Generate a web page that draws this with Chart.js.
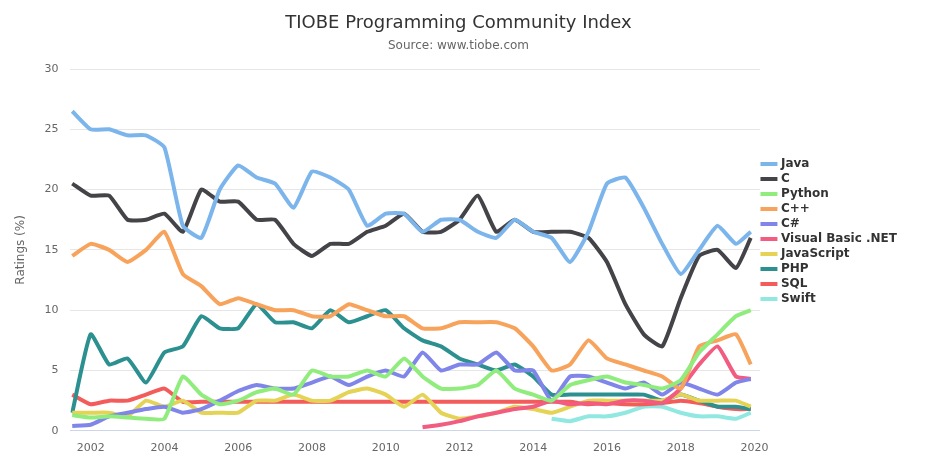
<!DOCTYPE html>
<html>
<head>
<meta charset="utf-8">
<script src="https://cdn.jsdelivr.net/npm/chart.js@4"></script>
<style>
  body { margin: 0; background: #fff; font-family: "DejaVu Sans", sans-serif; }
  #wrap { width: 937px; height: 468px; position: relative; }
</style>
</head>
<body>
<div id="wrap"><canvas id="chart" width="937" height="468"></canvas></div>
<script>
// Dane (co pół roku)
var years = [2001.5, 2002, 2002.5, 2003, 2003.5, 2004, 2004.5, 2005, 2005.5, 2006, 2006.5, 2007, 2007.5,
  2008, 2008.5, 2009, 2009.5, 2010, 2010.5, 2011, 2011.5, 2012, 2012.5, 2013, 2013.5, 2014, 2014.5,
  2015, 2015.5, 2016, 2016.5, 2017, 2017.5, 2018, 2018.5, 2019, 2019.5, 2019.9];

var java = [26.5, 25, 25, 24.5, 24.5, 23.5, 17, 16, 20, 22, 21, 20.5, 18.5,
  21.5, 21, 20, 17, 18, 18, 16.5, 17.5, 17.5, 16.5, 16, 17.5, 16.5, 16,
  14, 16.5, 20.5, 21, 18.5, 15.5, 13, 15, 17, 15.5, 16.5];
var c = [20.5, 19.5, 19.5, 17.5, 17.5, 18, 16.5, 20, 19, 19, 17.5, 17.5, 15.5,
  14.5, 15.5, 15.5, 16.5, 17, 18, 16.5, 16.5, 17.5, 19.5, 16.5, 17.5, 16.5, 16.5,
  16.5, 16, 14, 10.5, 8, 7, 11, 14.5, 15, 13.5, 16];
var python = [1.3, 1.1, 1.2, 1.1, 1.0, 1.0, 4.5, 3, 2.2, 2.5, 3.2, 3.5, 3.0,
  5.0, 4.5, 4.5, 5, 4.5, 6, 4.5, 3.5, 3.5, 3.8, 5, 3.5, 3, 2.5,
  3.8, 4.2, 4.5, 4, 3.8, 3.5, 4.2, 6.5, 8, 9.5, 10];
var cpp = [14.5, 15.5, 15, 14, 15, 16.5, 13, 12, 10.5, 11, 10.5, 10, 10,
  9.5, 9.5, 10.5, 10, 9.5, 9.5, 8.5, 8.5, 9, 9, 9, 8.5, 7, 5,
  5.5, 7.5, 6, 5.5, 5, 4.5, 3.5, 7, 7.5, 8, 5.5];
var csharp = [0.4, 0.5, 1.2, 1.5, 1.8, 2, 1.5, 1.8, 2.5, 3.3, 3.8, 3.5, 3.5,
  4, 4.5, 3.8, 4.5, 5, 4.5, 6.5, 5, 5.5, 5.5, 6.5, 5, 5, 2.5,
  4.5, 4.5, 4, 3.5, 4, 3, 4, 3.5, 3, 4, 4.3];
var vbnet = [null, null, null, null, null, null, null, null, null, null, null, null, null,
  null, null, null, null, null, null, 0.3, 0.5, 0.8, 1.2, 1.5, 1.8, 2, 2.5,
  2.2, 2.3, 2.2, 2.5, 2.5, 2.3, 3.5, 5.5, 7, 4.5, 4.3];
var javascript = [1.5, 1.5, 1.5, 1.2, 2.5, 2, 2.5, 1.5, 1.5, 1.5, 2.5, 2.5, 3,
  2.5, 2.5, 3.2, 3.5, 3, 2, 3, 1.5, 1, 1.2, 1.5, 2, 1.8, 1.5,
  2, 2.5, 2.5, 2.5, 2.5, 2.5, 3, 2.5, 2.5, 2.5, 2.0];
var php = [1.5, 8, 5.5, 6, 4, 6.5, 7, 9.5, 8.5, 8.5, 10.5, 9, 9,
  8.5, 10, 9, 9.5, 10, 8.5, 7.5, 7, 6, 5.5, 5, 5.5, 4.5, 3,
  3, 3, 3, 3, 3, 2.5, 3, 2.5, 2, 2, 1.8];
var sql = [3, 2.2, 2.5, 2.5, 3, 3.5, 2.4, 2.4, 2.4, 2.4, 2.4, 2.4, 2.4,
  2.4, 2.4, 2.4, 2.4, 2.4, 2.4, 2.4, 2.4, 2.4, 2.4, 2.4, 2.4, 2.4, 2.4,
  2.4, 2.2, 2.3, 2.2, 2.2, 2.3, 2.5, 2.3, 2, 1.8, 1.8];
var swift = [null, null, null, null, null, null, null, null, null, null, null, null, null,
  null, null, null, null, null, null, null, null, null, null, null, null, null, 1.0,
  0.8, 1.2, 1.2, 1.5, 2, 2, 1.5, 1.2, 1.2, 1, 1.5];

var seriesNames = ['Java', 'C', 'Python', 'C++', 'C#', 'Visual Basic .NET', 'JavaScript', 'PHP', 'SQL', 'Swift'];
var seriesValues = [java, c, python, cpp, csharp, vbnet, javascript, php, sql, swift];
var seriesColors = ['#7cb5ec', '#434348', '#90ed7d', '#f7a35c', '#8085e9', '#f15c80', '#e4d354', '#2b908f', '#f45b5b', '#91e8e1'];
var xTicks = [2002, 2004, 2006, 2008, 2010, 2012, 2014, 2016, 2018, 2020];

var datasets = seriesNames.map(function(name, i) {
    return {
        label: name,
        data: years.map(function(y, j) { return { x: y, y: seriesValues[i][j] }; }),
        borderColor: seriesColors[i],
        backgroundColor: seriesColors[i],
        borderWidth: 4,
        pointRadius: 0,
        tension: 0.15,
        spanGaps: false
    };
});

var ctx = document.getElementById('chart').getContext('2d');
new Chart(ctx, {
    type: 'line',
    data: { datasets: datasets },
    options: {
        responsive: false,
        animation: false,
        devicePixelRatio: 1,
        layout: { padding: { left: 10, right: 30, top: 5, bottom: 10 } },
        plugins: {
            title: {
                display: true,
                text: 'TIOBE Programming Community Index',
                color: '#333',
                font: { size: 18, weight: 'normal', family: 'DejaVu Sans' },
                padding: { top: 8, bottom: 4 }
            },
            subtitle: {
                display: true,
                text: 'Source: www.tiobe.com',
                color: '#666',
                font: { size: 12, family: 'DejaVu Sans' },
                padding: { bottom: 16 }
            },
            legend: {
                position: 'right',
                align: 'center',
                labels: {
                    usePointStyle: true,
                    pointStyle: 'line',
                    boxWidth: 16,
                    padding: 3,
                    color: '#333',
                    font: { size: 12, weight: 'bold', family: 'DejaVu Sans' }
                }
            },
            tooltip: { enabled: false }
        },
        scales: {
            x: {
                type: 'linear',
                min: 2001.45,
                max: 2020.15,
                afterBuildTicks: function(axis) {
                    axis.ticks = xTicks.map(function(v) { return { value: v }; });
                },
                grid: { display: false, drawOnChartArea: false, tickLength: 8 },
                border: { color: '#ccd6eb' },
                ticks: {
                    color: '#666',
                    maxRotation: 0,
                    font: { size: 11, family: 'DejaVu Sans' },
                    callback: function(v) { return String(v); }
                }
            },
            y: {
                min: 0,
                max: 30,
                ticks: { stepSize: 5, color: '#666', font: { size: 11, family: 'DejaVu Sans' }, padding: 12 },
                grid: { color: '#e6e6e6', drawTicks: false },
                border: { display: false },
                title: { display: true, text: 'Ratings (%)', color: '#666', font: { size: 12, family: 'DejaVu Sans' } }
            }
        }
    }
});
</script>
</body>
</html>
